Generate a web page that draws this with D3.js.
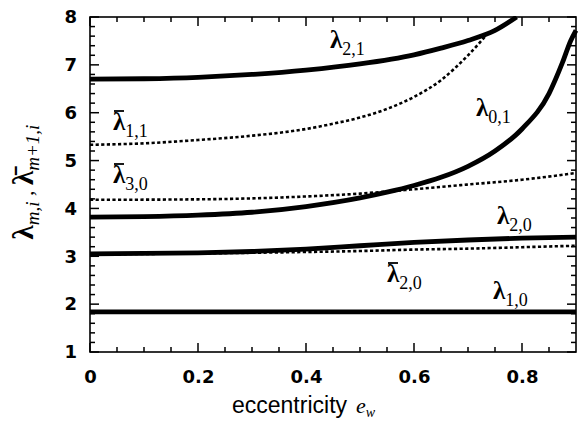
<!DOCTYPE html>
<html lang="en">
  <head>
    <meta charset="UTF-8" />
    <title>Eigenvalues vs eccentricity</title>
    <script src="https://d3js.org/d3.v7.min.js"></script>
    <style>
      body {
        margin: 0;
        background: #fff;
      }
      .tick text {
        font-family: "DejaVu Sans", sans-serif;
        font-weight: bold;
        font-size: 18px;
        fill: #000;
      }
      .domain {
        display: none;
      }
    </style>
  </head>
  <body>
    <div id="chart"></div>
    <script>
      // values: [eccentricity, lambda]
      const lam10 = [[0, 1.84], [0.3, 1.84], [0.6, 1.84], [0.9, 1.84]];
      const lam20 = [[0, 3.05], [0.2, 3.07], [0.3, 3.1], [0.4, 3.15], [0.5, 3.22], [0.6, 3.29], [0.7, 3.34], [0.8, 3.38], [0.9, 3.4]];
      const lamBar20 = [[0, 3.04], [0.2, 3.06], [0.4, 3.09], [0.5, 3.11], [0.6, 3.14], [0.7, 3.16], [0.8, 3.19], [0.9, 3.22]];
      const lam01 = [[0, 3.82], [0.1, 3.83], [0.2, 3.86], [0.3, 3.92], [0.4, 4.04], [0.5, 4.22], [0.55, 4.34], [0.6, 4.48], [0.65, 4.65], [0.7, 4.88], [0.75, 5.2], [0.8, 5.66], [0.85, 6.4], [0.875, 7.05], [0.89, 7.5], [0.9, 7.72]];
      const lamBar30 = [[0, 4.18], [0.2, 4.19], [0.3, 4.21], [0.4, 4.25], [0.5, 4.31], [0.6, 4.4], [0.7, 4.5], [0.8, 4.6], [0.9, 4.74]];
      const lamBar11 = [[0, 5.33], [0.1, 5.36], [0.2, 5.43], [0.3, 5.52], [0.4, 5.66], [0.45, 5.77], [0.5, 5.9], [0.55, 6.08], [0.6, 6.33], [0.65, 6.68], [0.7, 7.2], [0.74, 7.7]];
      const lam21 = [[0, 6.7], [0.1, 6.71], [0.2, 6.74], [0.3, 6.8], [0.4, 6.89], [0.5, 7.02], [0.6, 7.21], [0.65, 7.35], [0.7, 7.51], [0.75, 7.72], [0.79, 8.0]];

      const xMajor = [0, 0.2, 0.4, 0.6, 0.8];
      const xMinor = [0.05, 0.1, 0.15, 0.25, 0.3, 0.35, 0.45, 0.5, 0.55, 0.65, 0.7, 0.75, 0.85];
      const yMajor = [1, 2, 3, 4, 5, 6, 7, 8];
      const yMinor = [1.2, 1.4, 1.6, 1.8, 2.2, 2.4, 2.6, 2.8, 3.2, 3.4, 3.6, 3.8, 4.2, 4.4, 4.6, 4.8, 5.2, 5.4, 5.6, 5.8, 6.2, 6.4, 6.6, 6.8, 7.2, 7.4, 7.6, 7.8];

      const W = 581;
      const H = 425;
      const plot = {left: 90, right: 576, top: 17, bottom: 352};

      const svg = d3.select("#chart").append("svg").attr("width", W).attr("height", H);

      const x = d3.scaleLinear().domain([0, 0.9]).range([plot.left, plot.right]);
      const y = d3.scaleLinear().domain([1, 8]).range([plot.bottom, plot.top]);

      // tick labels from the axes
      svg.append("g").attr("transform", `translate(0,${plot.bottom})`)
        .call(d3.axisBottom(x).tickValues(xMajor).tickSize(0).tickPadding(18).tickFormat((d) => (d === 0 ? "0" : d3.format(".1f")(d))));
      svg.append("g").attr("transform", `translate(${plot.left},0)`)
        .call(d3.axisLeft(y).tickValues(yMajor).tickSize(0).tickPadding(13).tickFormat(d3.format("d")));

      // inward tick marks on all four sides
      const ticks = svg.append("g").attr("stroke", "#000").attr("stroke-width", 1.5);
      const xTicks = xMajor.map((v) => ({v, len: 9})).concat(xMinor.map((v) => ({v, len: 5})));
      const yTicks = yMajor.map((v) => ({v, len: 9})).concat(yMinor.map((v) => ({v, len: 5})));

      ticks.selectAll(".xb").data(xTicks).join("line").attr("class", "xb")
        .attr("x1", (d) => x(d.v)).attr("x2", (d) => x(d.v))
        .attr("y1", plot.bottom).attr("y2", (d) => plot.bottom - d.len);
      ticks.selectAll(".xt").data(xTicks).join("line").attr("class", "xt")
        .attr("x1", (d) => x(d.v)).attr("x2", (d) => x(d.v))
        .attr("y1", plot.top).attr("y2", (d) => plot.top + d.len);
      ticks.selectAll(".yl").data(yTicks).join("line").attr("class", "yl")
        .attr("y1", (d) => y(d.v)).attr("y2", (d) => y(d.v))
        .attr("x1", plot.left).attr("x2", (d) => plot.left + d.len);
      ticks.selectAll(".yr").data(yTicks).join("line").attr("class", "yr")
        .attr("y1", (d) => y(d.v)).attr("y2", (d) => y(d.v))
        .attr("x1", plot.right).attr("x2", (d) => plot.right - d.len);

      svg.append("rect")
        .attr("x", plot.left).attr("y", plot.top)
        .attr("width", plot.right - plot.left).attr("height", plot.bottom - plot.top)
        .attr("fill", "none").attr("stroke", "#000").attr("stroke-width", 1.6);

      svg.append("clipPath").attr("id", "plot-clip")
        .append("rect").attr("x", plot.left).attr("y", plot.top - 1)
        .attr("width", plot.right - plot.left + 2).attr("height", plot.bottom - plot.top + 2);

      const line = d3.line().x((d) => x(d[0])).y((d) => y(d[1])).curve(d3.curveMonotoneX);

      const curves = [
        {data: lamBar20, dotted: true},
        {data: lamBar30, dotted: true},
        {data: lamBar11, dotted: true},
        {data: lam10, dotted: false},
        {data: lam20, dotted: false},
        {data: lam01, dotted: false},
        {data: lam21, dotted: false},
      ];

      svg.append("g").attr("clip-path", "url(#plot-clip)")
        .selectAll("path")
        .data(curves)
        .join("path")
        .attr("d", (d) => line(d.data))
        .attr("fill", "none")
        .attr("stroke", "#000")
        .attr("stroke-width", (d) => (d.dotted ? 2.6 : 4.8))
        .attr("stroke-dasharray", (d) => (d.dotted ? "3.2,2.4" : null));

      // curve labels: lambda with optional bar and subscript
      function lamLabel(lx, ly, sub, bar) {
        const t = svg.append("text")
          .attr("x", lx).attr("y", ly)
          .attr("font-family", "Liberation Serif, serif")
          .attr("fill", "#000");
        t.append("tspan").attr("font-size", 25).attr("font-weight", "bold").text("λ");
        t.append("tspan").attr("font-size", 18).attr("dy", 7).text(sub);
        if (bar) {
          svg.append("line")
            .attr("x1", lx + 1).attr("x2", lx + 11)
            .attr("y1", ly - 19).attr("y2", ly - 19)
            .attr("stroke", "#000").attr("stroke-width", 1.8);
        }
      }

      lamLabel(330, 48, "2,1", false);
      lamLabel(113, 130, "1,1", true);
      lamLabel(113, 183, "3,0", true);
      lamLabel(476, 116, "0,1", false);
      lamLabel(497, 224, "2,0", false);
      lamLabel(387, 282, "2,0", true);
      lamLabel(493, 299, "1,0", false);

      // y axis title
      const yt = svg.append("text")
        .attr("transform", "translate(33,182) rotate(-90)")
        .attr("text-anchor", "middle")
        .attr("font-family", "Liberation Serif, serif")
        .attr("fill", "#000");
      yt.append("tspan").attr("font-size", 29).attr("font-weight", "bold").text("λ");
      yt.append("tspan").attr("font-size", 19).attr("font-style", "italic").attr("dy", 6).text("m,i");
      yt.append("tspan").attr("font-size", 22).attr("dy", -6).text(" , ");
      yt.append("tspan").attr("font-size", 29).attr("font-weight", "bold").text("λ\u0304");
      yt.append("tspan").attr("font-size", 19).attr("font-style", "italic").attr("dy", 6).text("m+1,i");

      // x axis title
      const xt = svg.append("text")
        .attr("x", 232).attr("y", 413)
        .attr("fill", "#000");
      xt.append("tspan").attr("font-family", "Liberation Sans, Arial, sans-serif").attr("font-size", 23).text("eccentricity");
      xt.append("tspan").attr("font-family", "Liberation Serif, serif").attr("font-style", "italic").attr("font-size", 22).attr("dx", 9).text("e");
      xt.append("tspan").attr("font-family", "Liberation Serif, serif").attr("font-style", "italic").attr("font-size", 14).attr("dy", 4).text("w");
    </script>
  </body>
</html>
